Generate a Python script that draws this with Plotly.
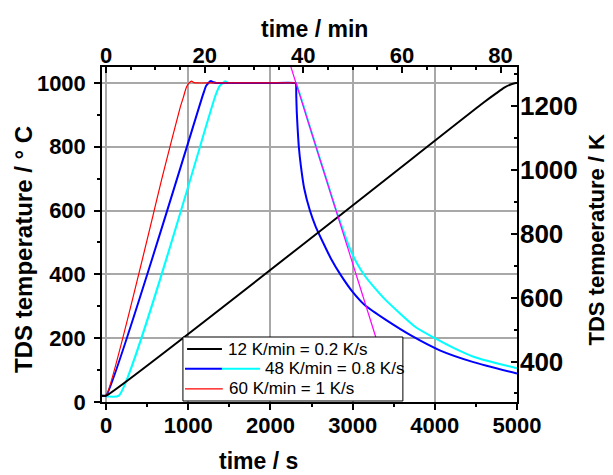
import plotly.graph_objects as go

# ---- data (time in s, temperature in deg C) ----
# 12 K/min = 0.2 K/s
t_12 = [-50, 0, 4590, 4750, 4850, 4930, 4985, 5000]
T_12 = [20, 20, 938, 968, 986, 996, 1000, 1000]

# 48 K/min = 0.8 K/s (run 1, blue)
t_48a = [-50, 0, 1180, 1215, 1245, 1275, 1305, 1340, 1500, 2000, 2300, 2310, 2314, 2320,
         2330, 2345, 2370, 2410, 2480, 2550, 2640, 2735, 2850, 3000, 3150, 3400, 3720,
         4060, 4470, 5000]
T_48a = [20, 20, 964, 990, 1000, 1006, 1002, 1000, 1000, 1000, 1000, 998, 960, 910,
         860, 800, 740, 670, 600, 550, 500, 450, 400, 345, 303, 258, 207,
         162, 125, 89]

# 48 K/min = 0.8 K/s (run 2, cyan)
t_48b = [-50, 155, 1330, 1380, 1420, 1450, 1480, 1520, 1700, 2000, 2300, 2310, 2500,
         2700, 2790, 2870, 2960, 3050, 3150, 3260, 3400, 3760, 4000, 4240, 4480, 4740, 5000]
T_48b = [20, 20, 960, 990, 1000, 1005, 1001, 1000, 1000, 1000, 1000, 1000, 845,
         682, 608, 548, 485, 436, 395, 360, 320, 236, 200, 168, 141, 122, 106]

# 60 K/min = 1 K/s
t_60 = [-50, 0, 700, 900, 940, 975, 1010, 1040, 1070, 1110, 1300, 1800, 2310]
T_60 = [20, 20, 722, 922, 955, 985, 1000, 1006, 1001, 1000, 1000, 1000, 1000]

# cooling set ramp (magenta)
t_set = [2237, 3282]
T_set = [1060, 203]

legend_labels = ["12 K/min = 0.2 K/s", "48 K/min = 0.8 K/s", "60 K/min = 1 K/s"]

x_range = [-50, 5000]
y_range = [0, 1050]
K_OFFSET = 273.15

FONT = "Liberation Sans, Arial, sans-serif"

fig = go.Figure()
fig.add_trace(go.Scatter(x=t_48b, y=T_48b, mode="lines",
                         line=dict(color="#00FFFF", width=2, shape="spline", smoothing=0.5)))
fig.add_trace(go.Scatter(x=t_48a, y=T_48a, mode="lines",
                         line=dict(color="#0000FF", width=2, shape="spline", smoothing=0.5)))
fig.add_trace(go.Scatter(x=t_60, y=T_60, mode="lines",
                         line=dict(color="#FF0000", width=1.2, shape="spline", smoothing=0.5)))
fig.add_trace(go.Scatter(x=t_12, y=T_12, mode="lines",
                         line=dict(color="#000000", width=2, shape="spline", smoothing=0.5)))
fig.add_trace(go.Scatter(x=t_set, y=T_set, mode="lines",
                         line=dict(color="#FF00FF", width=1.2)))
# empty trace to register the secondary (top / right) axes
fig.add_trace(go.Scatter(x=[], y=[], xaxis="x2", yaxis="y2", hoverinfo="skip"))

tick_font = dict(family=FONT, size=22, color="black", weight="bold")
axis_common = dict(showline=True, linecolor="black", linewidth=1.5, zeroline=False,
                   tickcolor="black", tickwidth=1.5, ticklen=6)

fig.update_layout(
    width=605, height=467,
    margin=dict(l=94, r=96, t=59, b=73),
    paper_bgcolor="white", plot_bgcolor="white",
    showlegend=False,
    xaxis=dict(range=x_range, tick0=0, dtick=1000, ticks="outside",
               showgrid=True, gridcolor="#a8a8a8", gridwidth=1.5,
               tickfont=tick_font, ticklabelstandoff=-3,
               minor=dict(dtick=500, tick0=0, ticks="outside", ticklen=3,
                          tickcolor="black", tickwidth=1.5, showgrid=False),
               **axis_common),
    yaxis=dict(range=y_range, tick0=0, dtick=200, ticks="outside",
               showgrid=True, gridcolor="#a8a8a8", gridwidth=1.5,
               tickfont=tick_font, ticklabelstandoff=4,
               minor=dict(dtick=100, tick0=0, ticks="outside", ticklen=3,
                          tickcolor="black", tickwidth=1.5, showgrid=False),
               **axis_common),
    xaxis2=dict(range=[x_range[0] / 60, x_range[1] / 60], overlaying="x", side="top",
                anchor="y", tick0=0, dtick=20, ticks="inside", showgrid=False,
                tickfont=tick_font, ticklabelstandoff=-7,
                minor=dict(dtick=5, tick0=0, ticks="inside", ticklen=3,
                           tickcolor="black", tickwidth=1.5),
                **axis_common),
    yaxis2=dict(range=[y_range[0] + K_OFFSET, y_range[1] + K_OFFSET], overlaying="y",
                side="right", anchor="x", tick0=0, dtick=200, ticks="inside",
                showgrid=False, ticklabelstandoff=-4,
                tickfont=dict(family=FONT, size=26, color="black", weight="bold"),
                minor=dict(dtick=100, tick0=0, ticks="inside", ticklen=3,
                           tickcolor="black", tickwidth=1.5),
                **axis_common),
)

title_font = dict(family=FONT, size=23, color="black", weight="bold")
fig.add_annotation(text="time / min", xref="paper", yref="paper", x=0.511, y=1.113,
                   showarrow=False, font=title_font, xanchor="center", yanchor="middle")
fig.add_annotation(text="time / s", xref="paper", yref="paper", x=0.376, y=-0.176,
                   showarrow=False, font=title_font, xanchor="center", yanchor="middle")
fig.add_annotation(text="TDS temperature / ° C", xref="paper", yref="paper", x=-0.188,
                   y=0.457, textangle=-90, showarrow=False,
                   font=dict(family=FONT, size=24, color="black", weight="bold"),
                   xanchor="center", yanchor="middle")
fig.add_annotation(text="TDS temperature / K", xref="paper", yref="paper", x=1.192,
                   y=0.484, textangle=-90, showarrow=False,
                   font=dict(family=FONT, size=22, color="black", weight="bold"),
                   xanchor="center", yanchor="middle")

# manual legend (box, swatches, labels) in paper coordinates
fig.add_shape(type="rect", xref="paper", yref="paper", x0=0.195, x1=0.725, y0=0.003,
              y1=0.194, line=dict(color="black", width=1), fillcolor="white", layer="above")
swatches = [
    (0.205, 0.289, 0.158, "#000000", 2),
    (0.200, 0.289, 0.099, "#0000FF", 2),
    (0.289, 0.381, 0.099, "#00FFFF", 2),
    (0.200, 0.291, 0.039, "#FF0000", 1.2),
]
for x0, x1, yy, col, w in swatches:
    fig.add_shape(type="line", xref="paper", yref="paper", x0=x0, x1=x1, y0=yy, y1=yy,
                  line=dict(color=col, width=w), layer="above")
label_pos = [(0.299, 0.158), (0.388, 0.099), (0.301, 0.039)]
for lab, (lx, ly) in zip(legend_labels, label_pos):
    fig.add_annotation(text=lab, xref="paper", yref="paper", x=lx, y=ly, showarrow=False,
                       xanchor="left", yanchor="middle",
                       font=dict(family=FONT, size=17, color="black"))

fig.write_html("out.html")
